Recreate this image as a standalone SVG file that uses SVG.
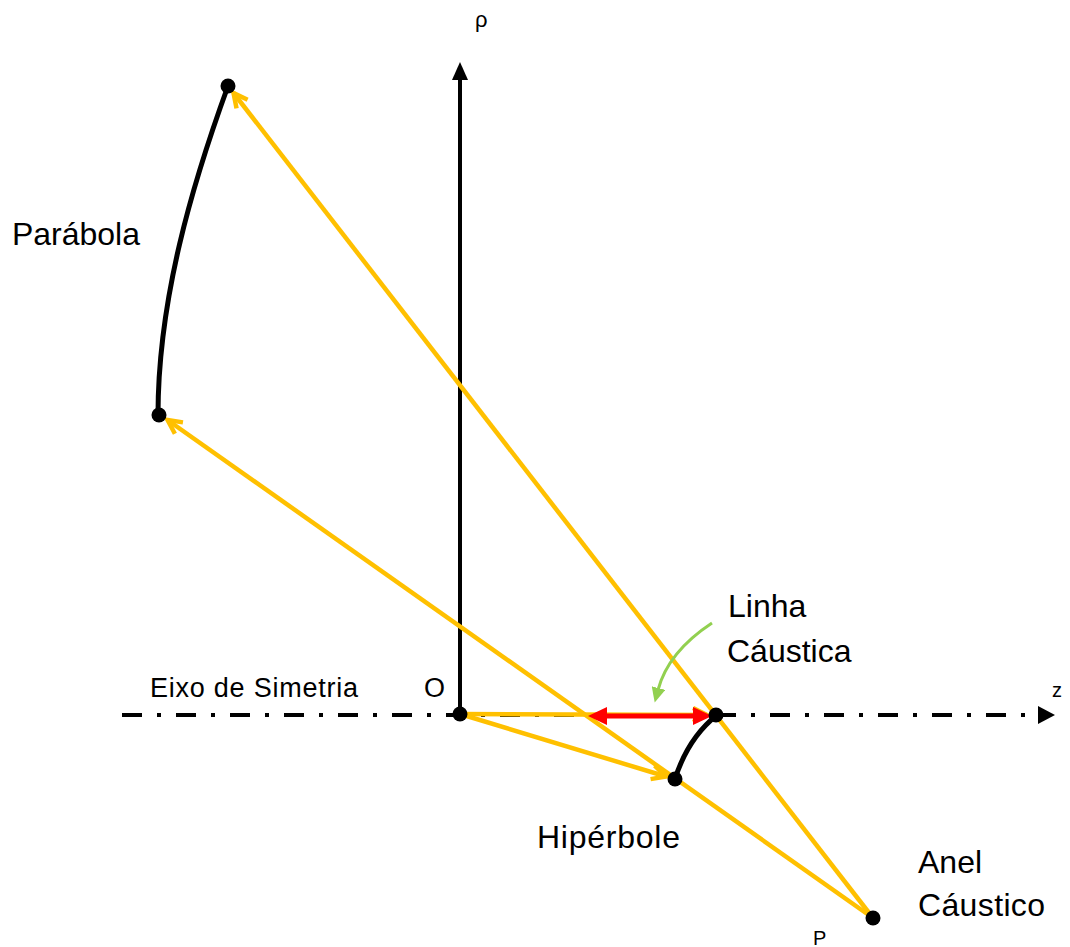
<svg xmlns="http://www.w3.org/2000/svg" width="1070" height="947" viewBox="0 0 1070 947">
<style>
.t{font-family:"Liberation Sans",Arial,sans-serif;fill:#000}
.ray{stroke:#FFC000;stroke-width:4.5;fill:none;marker-end:url(#yarrow)}
.curve{stroke:#000;stroke-width:5;fill:none;stroke-linecap:round}
.dot{fill:#000}
</style>
<defs>
<marker id="yarrow" viewBox="0 0 20 20" refX="17" refY="10" markerWidth="20" markerHeight="20" markerUnits="userSpaceOnUse" orient="auto">
<path d="M3,3 L17,10 L3,17" stroke="#FFC000" stroke-width="4.5" fill="none"/>
</marker>
<marker id="garrow" viewBox="0 0 16 14" refX="2" refY="7" markerWidth="16" markerHeight="14" markerUnits="userSpaceOnUse" orient="auto">
<path d="M0,0 L15,7 L0,14 Z" fill="#92D050"/>
</marker>
</defs>
<rect width="1070" height="947" fill="#fff"/>
<g id="axes">
<line x1="122" y1="715" x2="1040" y2="715" stroke="#000" stroke-width="4" stroke-dasharray="20 15 4 15"/>
<polygon points="1055,715 1038,706 1038,724" fill="#000"/>
<line x1="460" y1="714" x2="460" y2="78" stroke="#000" stroke-width="4"/>
<polygon points="460,62 452,80 468,80" fill="#000"/>
</g>
<g id="parabola"><path class="curve" d="M228,86 C192,185 158,300 158,415"/></g>
<g id="hiperbole"><path class="curve" d="M717,715 Q688,738 675,779"/></g>
<g id="connectors">
<line class="ray" x1="873" y1="918" x2="233.5" y2="93"/>
<line class="ray" x1="873" y1="918" x2="167.5" y2="420"/>
<line class="ray" x1="460" y1="714" x2="666" y2="776.5"/>
<line class="ray" x1="460" y1="714" x2="707" y2="715"/>
<g id="linha-caustica-arrow">
<line x1="604" y1="716" x2="696" y2="716" stroke="#FF0000" stroke-width="5"/>
<polygon points="588,716 607,707 607,725" fill="#FF0000"/>
<polygon points="712,716 693,707 693,725" fill="#FF0000"/>
</g>
<path d="M712,623 Q668,652 658,690" stroke="#92D050" stroke-width="3" fill="none" marker-end="url(#garrow)"/>
</g>
<g id="points">
<circle class="dot" cx="228" cy="86" r="7.5"/>
<circle class="dot" cx="159" cy="415" r="7.5"/>
<circle class="dot" cx="460" cy="714" r="7.5"/>
<circle class="dot" cx="716" cy="715" r="7.5"/>
<circle class="dot" cx="675" cy="779" r="7.5"/>
<circle class="dot" cx="873" cy="918" r="7.5"/>
</g>
<g id="labels">
<text class="t" x="475" y="27" font-size="22">ρ</text>
<text class="t" x="12" y="245" font-size="32" textLength="128">Parábola</text>
<text class="t" x="150" y="697" font-size="27" textLength="208">Eixo de Simetria</text>
<text class="t" x="424" y="697" font-size="27">O</text>
<text class="t" x="1052" y="697" font-size="20">z</text>
<text class="t" x="728" y="617" font-size="32">Linha</text>
<text class="t" x="727" y="662" font-size="32">Cáustica</text>
<text class="t" x="537" y="848" font-size="32" textLength="143">Hipérbole</text>
<text class="t" x="918" y="873" font-size="32">Anel</text>
<text class="t" x="918" y="916" font-size="32" textLength="127">Cáustico</text>
<text class="t" x="813" y="945" font-size="20">P</text>
</g>
</svg>
